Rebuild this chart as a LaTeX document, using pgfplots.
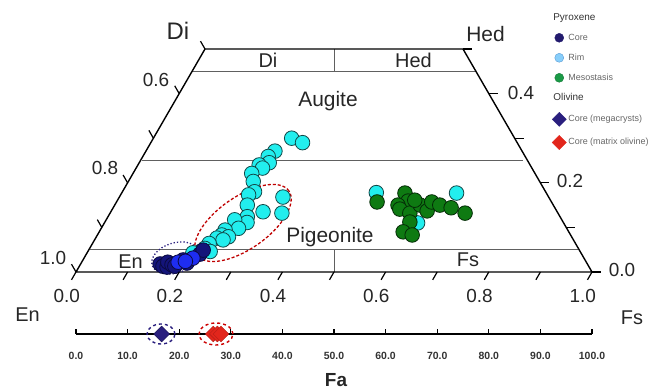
\documentclass[border=0pt]{standalone}
\usepackage{pgfplots}
\pgfplotsset{compat=1.18}
\usepackage{pgfplotstable}
\usepackage{fontspec}
\setmainfont{Liberation Sans}

\definecolor{rimfill}{HTML}{22EEEE}
\definecolor{rimedge}{HTML}{124848}
\definecolor{coredark}{HTML}{14147A}
\definecolor{corebright}{HTML}{1E2DF0}
\definecolor{coreedge}{HTML}{0A0A40}
\definecolor{mesofill}{HTML}{0E7A12}
\definecolor{mesoedge}{HTML}{042A06}
\definecolor{lgcore}{HTML}{231B6E}
\definecolor{lgrim}{HTML}{87CEFA}
\definecolor{lgrimedge}{HTML}{5B9BD5}
\definecolor{lgmeso}{HTML}{1A9A46}
\definecolor{olnavy}{HTML}{2A1F7E}
\definecolor{olred}{HTML}{E2261C}
\definecolor{gridgray}{HTML}{606060}

% Pyroxene compositions as ternary fractions (Fs, Wo); En = 1 - Fs - Wo
\pgfplotstableread{
Fs Wo
0.268 0.300
0.294 0.290
0.250 0.271
0.243 0.259
0.252 0.245
0.235 0.240
0.245 0.233
0.230 0.221
0.242 0.203
0.256 0.180
0.248 0.173
0.317 0.168
0.257 0.150
0.295 0.135
0.333 0.132
0.270 0.124
0.276 0.111
0.249 0.117
0.266 0.098
0.242 0.094
0.241 0.083
0.235 0.076
0.256 0.079
0.249 0.072
0.226 0.064
0.223 0.053
0.218 0.046
0.237 0.046
0.205 0.043
0.493 0.178
0.649 0.177
0.607 0.110
}\rimdata

\pgfplotstableread{
Fs Wo
0.154 0.018
0.162 0.013
0.171 0.011
0.167 0.022
0.178 0.016
0.185 0.013
0.194 0.027
0.205 0.020
0.220 0.040
0.222 0.049
}\coredark

\pgfplotstableread{
Fs Wo
0.187 0.022
0.211 0.031
0.200 0.024
}\corebright

\pgfplotstableread{
Fs Wo
0.505 0.157
0.549 0.177
0.564 0.159
0.549 0.150
0.557 0.141
0.581 0.132
0.592 0.150
0.612 0.137
0.611 0.157
0.630 0.150
0.655 0.144
0.688 0.132
0.591 0.112
0.589 0.090
0.610 0.083
0.576 0.161
}\mesodata

% Olivine Fa (mol%), plotted on the Fa bar (level = bar position)
\pgfplotstableread{
Fa Lev
16.6 -0.139
}\olmega
\pgfplotstableread{
Fa Lev
26.6 -0.139
27.4 -0.139
28.1 -0.139
}\olmatrix

\pgfplotsset{
  ptlegend/.style={legend image code/.code={\draw[##1] plot coordinates {(5bp,0bp)};}},
}

\begin{document}
\begin{tikzpicture}
\path[use as bounding box] (0,0) rectangle (652bp,390bp);
\begin{axis}[
  at={(0,0)}, anchor=south west, scale only axis,
  width=652bp, height=390bp,
  xmin=-0.147287, xmax=1.116279, ymin=-0.264574, ymax=0.609865,
  hide axis, clip=false,
  legend cell align=left,
  legend style={at={(0.8466,0.9690)}, anchor=north west, draw=none, fill=none,
    inner sep=0pt, row sep=9bp,
    font=\fontsize{9}{10}\selectfont, text=black!60,
    nodes={inner sep=1bp, text height=7bp, text depth=2bp},
    /tikz/every odd column/.append style={column sep=1bp}},
]
% ---- quadrilateral frame ----
\draw[gridgray, line width=0.9bp] (axis cs:0.225,0.45) -- (axis cs:0.775,0.45);
\draw[gridgray, line width=0.9bp] (axis cs:0.128,0.25) -- (axis cs:0.866,0.25);
\draw[gridgray, line width=0.9bp] (axis cs:0.027,0.05) -- (axis cs:0.973,0.05);
\draw[gridgray, line width=0.9bp] (axis cs:0.5,0.45) -- (axis cs:0.5,0.5);
\draw[gridgray, line width=0.9bp] (axis cs:0.5,0) -- (axis cs:0.5,0.05);
\draw[black, line width=1.4bp] (axis cs:0,0) -- (axis cs:1,0) -- (axis cs:0.75,0.5) -- (axis cs:0.25,0.5) -- cycle;

% ---- ellipses ----
\draw[red!75!black, line width=1.3bp, dash pattern=on 3bp off 2bp, rotate around={35:(axis cs:0.3236,0.1099)}]
  (axis cs:0.3236,0.1099) ellipse [x radius=56bp, y radius=26bp];
\draw[olnavy, line width=1.3bp, dotted, rotate around={18:(axis cs:0.1919,0.0314)}]
  (axis cs:0.1919,0.0314) ellipse [x radius=24bp, y radius=15bp];

% ---- data ----
\addplot[only marks, mark=*, mark size=7.3bp, mark options={fill=rimfill, draw=rimedge, line width=0.8bp}, forget plot]
  table[x expr=\thisrow{Fs}+0.5*\thisrow{Wo}, y=Wo] {\rimdata};
\addplot[only marks, mark=*, mark size=7.3bp, mark options={fill=coredark, draw=coreedge, line width=0.8bp}, forget plot]
  table[x expr=\thisrow{Fs}+0.5*\thisrow{Wo}, y=Wo] {\coredark};
\addplot[only marks, mark=*, mark size=7.3bp, mark options={fill=corebright, draw=coreedge, line width=0.8bp}, forget plot]
  table[x expr=\thisrow{Fs}+0.5*\thisrow{Wo}, y=Wo] {\corebright};
\addplot[only marks, mark=*, mark size=7.3bp, mark options={fill=mesofill, draw=mesoedge, line width=0.8bp}, forget plot]
  table[x expr=\thisrow{Fs}+0.5*\thisrow{Wo}, y=Wo] {\mesodata};

% ---- olivine Fa scale ----
\draw[black, line width=2.4bp] (axis cs:0,-0.139) -- (axis cs:1,-0.139);
\draw[olnavy, line width=1.4bp, dashed] (axis cs:0.1647,-0.139) ellipse [x radius=14bp, y radius=10bp];
\draw[red!80!black, line width=1.4bp, dashed] (axis cs:0.2713,-0.139) ellipse [x radius=17bp, y radius=11bp];
\addplot[only marks, mark=square*, mark size=5.6bp, mark options={rotate=45, fill=olnavy, draw=olnavy!70!black}, forget plot]
  table[x expr=\thisrow{Fa}/100, y=Lev] {\olmega};
\addplot[only marks, mark=square*, mark size=5.6bp, mark options={rotate=45, fill=olred, draw=olred!80!black}, forget plot]
  table[x expr=\thisrow{Fa}/100, y=Lev] {\olmatrix};

% ---- legend ----
\addlegendimage{empty legend}
\addlegendentry{\hspace*{-15bp}\textcolor{black!80}{\fontsize{10}{11}\selectfont Pyroxene}}
\addlegendimage{ptlegend, only marks, mark=*, mark size=4.5bp, mark options={fill=lgcore, draw=lgcore}}
\addlegendentry{Core}
\addlegendimage{ptlegend, only marks, mark=*, mark size=4.5bp, mark options={fill=lgrim, draw=lgrimedge}}
\addlegendentry{Rim}
\addlegendimage{ptlegend, only marks, mark=*, mark size=4.5bp, mark options={fill=lgmeso, draw=lgmeso!80!black}}
\addlegendentry{Mesostasis}
\addlegendimage{empty legend}
\addlegendentry{\hspace*{-15bp}\textcolor{black!80}{\fontsize{10}{11}\selectfont Olivine}}
\addlegendimage{ptlegend, only marks, mark=square*, mark size=5bp, mark options={rotate=45, fill=olnavy, draw=olnavy}}
\addlegendentry{Core (megacrysts)}
\addlegendimage{ptlegend, only marks, mark=square*, mark size=5bp, mark options={rotate=45, fill=olred, draw=olred}}
\addlegendentry{Core (matrix olivine)}
\end{axis}

\begin{scope}[x=1bp, y=-1bp, yshift=390bp]
  % ternary ticks
  \foreach \k in {0,...,10} {
    \draw[black, line width=1.2bp] (76+51.6*\k,272) -- ++(-4.5,7.8);
  }
  \foreach \k in {0,...,5} {
    \draw[black, line width=1.2bp] (76+25.8*\k,272-44.6*\k) -- ++(-4.5,-7.8);
    \draw[black, line width=1.2bp] (592-25.8*\k,272-44.6*\k) -- ++(9,0);
  }
  % ternary tick labels
  \foreach \k/\lab in {0/0.0,1/0.2,2/0.4,3/0.6,4/0.8,5/1.0} {
    \node[anchor=base, inner sep=0pt, font=\fontsize{19}{20}\selectfont, text=black!85] at (66.7+103.2*\k,303) {\lab};
  }
  \node[anchor=base, inner sep=0pt, font=\fontsize{19}{20}\selectfont, text=black!85] at (156,87) {0.6};
  \node[anchor=base, inner sep=0pt, font=\fontsize{19}{20}\selectfont, text=black!85] at (105,175) {0.8};
  \node[anchor=base, inner sep=0pt, font=\fontsize{19}{20}\selectfont, text=black!85] at (53,265) {1.0};
  \node[anchor=base, inner sep=0pt, font=\fontsize{19}{20}\selectfont, text=black!85] at (521,100) {0.4};
  \node[anchor=base, inner sep=0pt, font=\fontsize{19}{20}\selectfont, text=black!85] at (570,188) {0.2};
  \node[anchor=base, inner sep=0pt, font=\fontsize{19}{20}\selectfont, text=black!85] at (622,277) {0.0};
  % end-member and field names
  \node[anchor=base, inner sep=0pt, font=\fontsize{24}{26}\selectfont, text=black!85] at (178,40) {Di};
  \node[anchor=base, inner sep=0pt, font=\fontsize{21}{23}\selectfont, text=black!85] at (485.5,42) {Hed};
  \node[anchor=base, inner sep=0pt, font=\fontsize{20}{22}\selectfont, text=black!85] at (27.5,322) {En};
  \node[anchor=base, inner sep=0pt, font=\fontsize{20}{22}\selectfont, text=black!85] at (632,325) {Fs};
  \node[anchor=base, inner sep=0pt, font=\fontsize{20}{22}\selectfont, text=black!85] at (268,68) {Di};
  \node[anchor=base, inner sep=0pt, font=\fontsize{20}{22}\selectfont, text=black!85] at (413.5,68) {Hed};
  \node[anchor=base, inner sep=0pt, font=\fontsize{21}{23}\selectfont, text=black!85] at (328,107) {Augite};
  \node[anchor=base, inner sep=0pt, font=\fontsize{21}{23}\selectfont, text=black!85] at (330,243) {Pigeonite};
  \node[anchor=base, inner sep=0pt, font=\fontsize{20}{22}\selectfont, text=black!85] at (130.5,269) {En};
  \node[anchor=base, inner sep=0pt, font=\fontsize{20}{22}\selectfont, text=black!85] at (468,267) {Fs};
  % Fa scale
  \foreach \v in {0,10,...,100} {
    \draw[black, line width=1.3bp] (76+5.16*\v,334) -- ++(0,-4.5);
    \node[anchor=base, inner sep=0pt, font=\bfseries\fontsize{10.5}{11}\selectfont, text=black!80] at (76+5.16*\v,359.5) {\v.0};
  }
  \node[anchor=base, inner sep=0pt, font=\bfseries\fontsize{19}{20}\selectfont, text=black!85] at (336,386.5) {Fa};
\end{scope}
\end{tikzpicture}
\end{document}
